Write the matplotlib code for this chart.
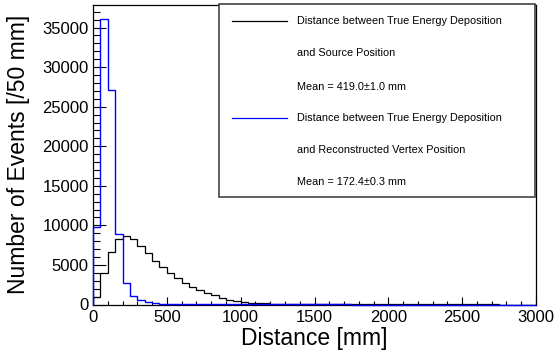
import numpy as np
import matplotlib
matplotlib.use("Agg")
import matplotlib.pyplot as plt
from matplotlib.ticker import MultipleLocator
from matplotlib.patches import Rectangle
from matplotlib.lines import Line2D

plt.rcParams['font.family'] = ['Liberation Sans', 'DejaVu Sans']

# 50 mm bins from 0 to 3000 mm
bin_edges = np.arange(0, 3001, 50)

# true deposition vs source position (black)
source_counts = [950, 4030, 6690, 8290, 8670, 8290, 7400, 6480, 5550, 4700,
                 3950, 3320, 2760, 2250, 1800, 1480, 1140, 850, 600, 420,
                 300, 220, 170, 140, 110, 90, 70, 55, 40, 30,
                 25, 20, 18, 15, 12, 10, 9, 8, 7, 6,
                 5, 5, 4, 4, 3, 3, 2, 2, 2, 1,
                 1, 1, 1, 1, 1, 0, 0, 0, 0, 0]

# true deposition vs reconstructed vertex (blue)
vertex_counts = [9800, 36100, 27100, 8950, 2750, 1080, 530, 320, 180, 100,
                 60, 40, 30, 20, 15, 12, 10, 8, 6, 5,
                 4, 3, 3, 2, 2, 2, 1, 1, 1, 1,
                 1, 1, 1, 1, 1, 0, 0, 0, 0, 0,
                 0, 0, 0, 0, 0, 0, 0, 0, 0, 0,
                 0, 0, 0, 0, 0, 0, 0, 0, 0, 0]

legend_lines = ["Distance between True Energy Deposition",
                "and Source Position",
                "Mean = 419.0\u00b11.0 mm",
                "Distance between True Energy Deposition",
                "and Reconstructed Vertex Position",
                "Mean = 172.4\u00b10.3 mm"]
legend_colors = ["black", None, None, "blue", None, None]

W, H = 559, 356
fig = plt.figure(figsize=(W / 100, H / 100), dpi=100)
ax = fig.add_axes([93 / W, 1 - 304.5 / H, (536 - 93) / W, (304.5 - 5) / H])

ax.stairs(source_counts, bin_edges, color="black", lw=0.9, baseline=0, zorder=3)
ax.stairs(vertex_counts, bin_edges, color="blue", lw=1.0, baseline=0, zorder=4,
          clip_on=False)

ax.set_xlim(0, 3000)
ax.set_ylim(0, 37850)
ax.xaxis.set_major_locator(MultipleLocator(500))
ax.xaxis.set_minor_locator(MultipleLocator(100))
ax.yaxis.set_major_locator(MultipleLocator(5000))
ax.yaxis.set_minor_locator(MultipleLocator(1000))
ax.tick_params(axis='both', which='both', direction='in', top=False, right=False,
               labelsize=12, width=0.8)
ax.tick_params(axis='y', which='major', length=9.5, pad=3)
ax.tick_params(axis='y', which='minor', length=5)
ax.tick_params(axis='x', which='major', length=6, pad=4)
ax.tick_params(axis='x', which='minor', length=3)
for s in ax.spines.values():
    s.set_linewidth(0.9)

fig.text(18.5 / W, 1 - 154 / H, "Number of Events [/50 mm]", rotation=90,
         ha='center', va='center', fontsize=16.5)
fig.text(314 / W, 1 - 339 / H, "Distance [mm]", ha='center', va='center', fontsize=16.5)

# legend box
fig.patches.append(Rectangle((219 / W, 1 - 197 / H), (535 - 219) / W, (197 - 4) / H,
                             transform=fig.transFigure, facecolor='white',
                             edgecolor='#444444', lw=1.2, zorder=5))
rows_y = [21, 53, 87, 118, 150, 182]
for txt, col, yy in zip(legend_lines, legend_colors, rows_y):
    if col is not None:
        fig.lines.append(Line2D([232 / W, 287 / W], [1 - yy / H, 1 - yy / H],
                                transform=fig.transFigure, color=col, lw=0.9, zorder=6))
    fig.text(297 / W, 1 - yy / H, txt, ha='left', va='center', fontsize=7.8, zorder=6)

fig.savefig("out.png", dpi=100)
